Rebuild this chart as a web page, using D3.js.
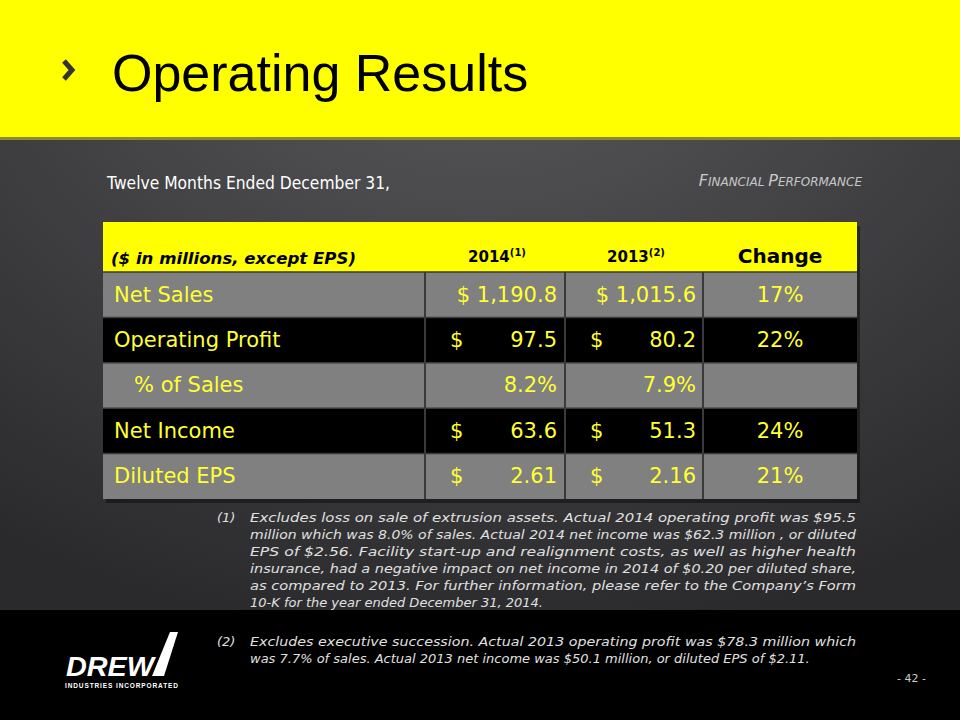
<!DOCTYPE html>
<html><head><meta charset="utf-8">
<script src="https://cdn.jsdelivr.net/npm/d3@7"></script>
<style>body{margin:0;background:#000}svg{display:block}</style>
</head><body>
<script>
const rowLabels = ["Net Sales", "Operating Profit", "   % of Sales", "Net Income", "Diluted EPS"];
const col2014 = ["$ 1,190.8", "$|97.5", "8.2%", "$|63.6", "$|2.61"];
const col2013 = ["$ 1,015.6", "$|80.2", "7.9%", "$|51.3", "$|2.16"];
const changes = ["17%", "22%", "", "24%", "21%"];
const rowFill = ["#808080", "#000", "#808080", "#000", "#808080"];
const note1 = [
  "Excludes loss on sale of extrusion assets.  Actual 2014 operating profit was $95.5",
  "million which was 8.0% of sales.  Actual 2014 net income was $62.3 million , or diluted",
  "EPS of $2.56. Facility start-up and realignment costs, as well as higher health",
  "insurance, had a negative impact on net income in 2014 of $0.20 per diluted share,",
  "as compared to 2013.  For further information, please refer to the Company’s Form",
  "10-K for the year ended December 31, 2014."];
const note2 = [
  "Excludes executive succession.  Actual 2013 operating profit was $78.3 million which",
  "was 7.7% of sales.  Actual 2013 net income was $50.1 million, or diluted EPS of $2.11."];

const W = 960, H = 720;
const svg = d3.select("body").append("svg").attr("width", W).attr("height", H);
const defs = svg.append("defs");
const g = defs.append("radialGradient").attr("id", "bg").attr("cx", "50%").attr("cy", "0%").attr("r", "90%");
g.append("stop").attr("offset", "0%").attr("stop-color", "#5a5a5c");
g.append("stop").attr("offset", "100%").attr("stop-color", "#2a2a2c");

svg.append("rect").attr("width", W).attr("height", H).attr("fill", "url(#bg)");
svg.append("rect").attr("width", W).attr("height", 137).attr("fill", "#ffff00");
svg.append("rect").attr("y", 137).attr("width", W).attr("height", 3).attr("fill", "#8a8a30");
svg.append("rect").attr("y", 610).attr("width", W).attr("height", 110).attr("fill", "#000");

svg.append("path").attr("d", "M64,61 L72,70 L64,79").attr("fill", "none")
  .attr("stroke", "#333").attr("stroke-width", 5);
svg.append("text").attr("x", 112).attr("y", 91).attr("font-family", "Liberation Sans, Arial")
  .attr("font-size", 52).attr("fill", "#000").text("Operating Results");

const font = "'DejaVu Sans', sans-serif";
svg.append("text").attr("x", 107).attr("y", 189).attr("font-family", font).attr("font-size", 18)
  .attr("fill", "#fff").attr("textLength", 283).attr("lengthAdjust", "spacingAndGlyphs").text("Twelve Months Ended December 31,");
svg.append("text").attr("x", 862).attr("y", 186).attr("text-anchor", "end").attr("font-family", font)
  .attr("font-style", "italic").attr("fill", "#c8c8c8")
  .html('<tspan font-size="16">F</tspan><tspan font-size="12">INANCIAL </tspan><tspan font-size="16">P</tspan><tspan font-size="12">ERFORMANCE</tspan>');

// table
const x0 = 103, cols = [103, 425, 565, 703, 857];
const y = d3.scaleBand().domain(d3.range(rowLabels.length)).range([272, 499]);
const T = svg.append("g");
T.append("rect").attr("x", x0 + 3).attr("y", 226).attr("width", 754).attr("height", 277).attr("fill", "#000").attr("opacity", 0.4);
T.append("rect").attr("x", x0).attr("y", 222).attr("width", 754).attr("height", 50).attr("fill", "#ffff00");
T.append("text").attr("x", 111).attr("y", 264).attr("font-family", font).attr("font-style", "italic")
  .attr("font-weight", "bold").attr("font-size", 15).attr("textLength", 245).attr("lengthAdjust", "spacingAndGlyphs").text("($ in millions, except EPS)");
[["2014", "(1)", 497], ["2013", "(2)", 636]].forEach(d => {
  T.append("text").attr("x", d[2]).attr("y", 262).attr("text-anchor", "middle").attr("font-family", font)
    .attr("font-weight", "bold").attr("font-size", 15)
    .html(d[0] + '<tspan font-size="10" dy="-6">' + d[1] + '</tspan>');
});
T.append("text").attr("x", 780).attr("y", 263).attr("text-anchor", "middle").attr("font-family", font)
  .attr("font-weight", "bold").attr("font-size", 20).text("Change");

const rows = T.selectAll("g.row").data(rowLabels).enter().append("g").attr("class", "row")
  .attr("transform", (d, i) => "translate(0," + y(i) + ")");
rows.append("rect").attr("x", x0).attr("width", 754).attr("height", y.bandwidth()).attr("fill", (d, i) => rowFill[i]);
rows.each(function (d, i) {
  const r = d3.select(this);
  for (let c = 1; c < 4; c++)
    r.append("line").attr("x1", cols[c]).attr("x2", cols[c]).attr("y2", y.bandwidth())
      .attr("stroke", "#3a3a3a").attr("stroke-width", 2);
  r.append("line").attr("x1", x0).attr("x2", 857).attr("stroke", "#3a3a3a").attr("stroke-width", 1.5);
  const ty = y.bandwidth() / 2 + 7, fs = 21;
  const txt = (x, s, a) => r.append("text").attr("x", x).attr("y", ty).attr("text-anchor", a || "start")
    .attr("font-family", font).attr("font-size", fs).attr("fill", "#ffff33").attr("xml:space", "preserve").text(s);
  txt(114, d);
  [[col2014[i], 450, 557], [col2013[i], 590, 696]].forEach(v => {
    const p = v[0].split("|");
    if (p.length > 1) { txt(v[1], p[0]); txt(v[2], p[1], "end"); }
    else txt(v[2], p[0], "end");
  });
  txt(780, changes[i], "middle");
});

function note(num, lines, top) {
  svg.append("text").attr("x", 217).attr("y", top).attr("font-family", font).attr("font-style", "italic")
    .attr("font-size", 13).attr("fill", "#e0e0e0").text("(" + num + ")");
  lines.forEach((l, i) => {
    const t = svg.append("text").attr("x", 250).attr("y", top + i * 17).attr("font-family", font)
      .attr("font-style", "italic").attr("font-size", 13).attr("fill", "#e0e0e0").text(l);
    if (i < lines.length - 1 || lines.length == 2 && i == 0) t.attr("textLength", 606).attr("lengthAdjust", "spacingAndGlyphs");
  });
}
note(1, note1, 522);
note(2, note2, 646);

// logo
const L = svg.append("g");
L.append("path").attr("d", "M170,632 L178,632 L164,676 L152,676 Z").attr("fill", "#fff");
L.append("text").attr("x", 66).attr("y", 676).attr("font-family", "Liberation Sans, Arial").attr("font-weight", "bold")
  .attr("font-style", "italic").attr("font-size", 28).attr("fill", "#fff").attr("textLength", 88).attr("lengthAdjust", "spacingAndGlyphs").text("DREW");
L.append("text").attr("x", 65).attr("y", 688).attr("font-family", "Liberation Sans, Arial").attr("font-weight", "bold")
  .attr("font-size", 6.5).attr("fill", "#fff").attr("textLength", 113).text("INDUSTRIES INCORPORATED");
svg.append("text").attr("x", 926).attr("y", 682).attr("text-anchor", "end").attr("font-family", font)
  .attr("font-size", 11).attr("fill", "#ccc").text("- 42 -");
</script>
</body></html>
